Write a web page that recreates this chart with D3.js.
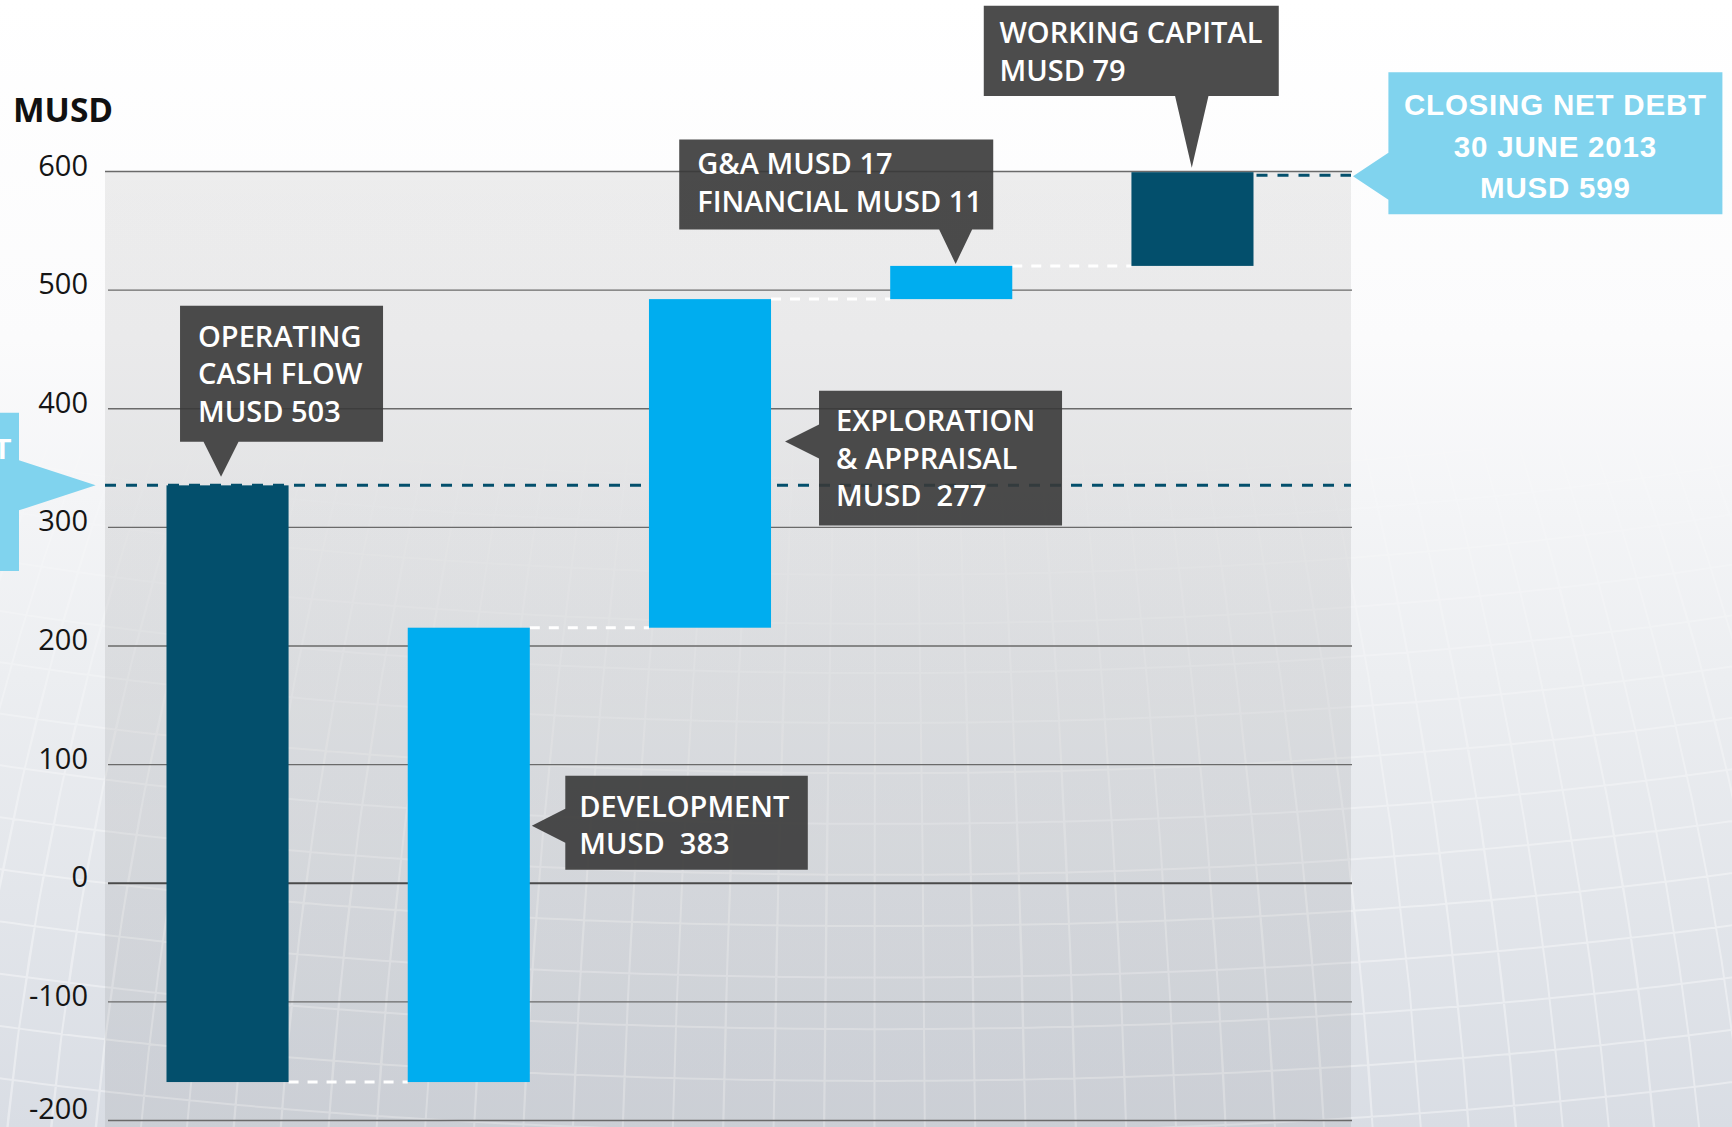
<!DOCTYPE html>
<html>
<head>
<meta charset="utf-8">
<script src="https://cdn.jsdelivr.net/npm/d3@7/dist/d3.min.js"></script>
<style>
  html, body { margin: 0; padding: 0; background: #ffffff; }
  svg { display: block; }
  text { white-space: pre; }
</style>
</head>
<body>
<svg id="chart" width="1732" height="1127"></svg>
<script>
// ---------------- DATA ----------------
const categories = ["Operating cash flow", "Development", "Exploration & appraisal", "G&A and financial", "Working capital"];
const openingNetDebt = 335;
const closingNetDebt = 599;
const changes = [-503, 383, 277, 28, 79];
const changeKinds = ["dark", "light", "light", "light", "dark"];
const gaMusd = 17;
const financialMusd = 11;
const tickValues = [-200, -100, 0, 100, 200, 300, 400, 500, 600];
const calloutLines = [
  ["OPERATING", "CASH FLOW", "MUSD 503"],
  ["DEVELOPMENT", "MUSD  383"],
  ["EXPLORATION", "& APPRAISAL", "MUSD  277"],
  ["G&A MUSD " + gaMusd, "FINANCIAL MUSD " + financialMusd],
  ["WORKING CAPITAL", "MUSD 79"]
];
const openingLines = ["OPENING NET DEBT"];
const closingLines = ["CLOSING NET DEBT", "30 JUNE 2013", "MUSD " + closingNetDebt];

// ---------------- LAYOUT ----------------
const W = 1732, H = 1127;
const plotLeft = 105, plotRight = 1351, gridLeft = 108, gridRight = 1352;
const svg = d3.select("#chart");

const y = d3.scaleLinear().domain([-200, 600]).range([1120, 171]);
const x = d3.scaleBand().domain(categories).range([166.5, 1253.5]).paddingInner(0.494).paddingOuter(0);
const bw = x.bandwidth();

const colors = { dark: "#034f6c", light: "#00adef" };

// waterfall levels
let level = openingNetDebt;
const bars = changes.map((c, i) => {
  const from = level, to = level + c;
  level = to;
  return { cat: categories[i], from, to, lo: Math.min(from, to), hi: Math.max(from, to), kind: changeKinds[i] };
});

// ---------------- DEFS ----------------
const defs = svg.append("defs");
const pageGrad = defs.append("linearGradient").attr("id", "pageGrad")
  .attr("x1", 0).attr("y1", 0).attr("x2", 0).attr("y2", 1);
[[0, "#ffffff"], [0.3, "#fbfbfc"], [0.6, "#eceef1"], [1, "#d9dde4"]]
  .forEach(([o, c]) => pageGrad.append("stop").attr("offset", o).attr("stop-color", c));

const plotGrad = defs.append("linearGradient").attr("id", "plotGrad")
  .attr("x1", 0).attr("y1", 0).attr("x2", 0).attr("y2", 1);
[[0, 0.065], [0.5, 0.075], [1, 0.065]]
  .forEach(([o, a]) => plotGrad.append("stop").attr("offset", o).attr("stop-color", "#000").attr("stop-opacity", a));

const maskGrad = defs.append("linearGradient").attr("id", "maskGrad")
  .attr("gradientUnits", "userSpaceOnUse").attr("x1", 0).attr("y1", 0).attr("x2", 0).attr("y2", H);
[[0, 0], [0.25, 0], [0.5, 0.45], [0.8, 1], [1, 1]]
  .forEach(([o, a]) => maskGrad.append("stop").attr("offset", o).attr("stop-color", "#fff").attr("stop-opacity", a));
defs.append("mask").attr("id", "meshMask").attr("maskUnits", "userSpaceOnUse")
  .attr("x", 0).attr("y", 0).attr("width", W).attr("height", H)
  .append("rect").attr("width", W).attr("height", H).attr("fill", "url(#maskGrad)");

// ---------------- BACKGROUND ----------------
svg.append("rect").attr("width", W).attr("height", H).attr("fill", "url(#pageGrad)");

// decorative globe mesh (sphere larger than the page so no edge shows)
const proj = d3.geoOrthographic().scale(1650).translate([880, 1150]).rotate([25, -12]).clipAngle(90);
const geoPath = d3.geoPath(proj);
svg.append("g").attr("mask", "url(#meshMask)")
  .append("path")
  .datum(d3.geoGraticule().step([1.8, 1.8]).precision(0.5)())
  .attr("d", geoPath)
  .attr("fill", "none").attr("stroke", "#ffffff").attr("stroke-opacity", 0.38).attr("stroke-width", 2);

// plot area
svg.append("rect").attr("x", plotLeft).attr("y", y(600)).attr("width", plotRight - plotLeft)
  .attr("height", H - y(600)).attr("fill", "url(#plotGrad)");

// ---------------- AXIS / GRID ----------------
const axis = svg.append("g").attr("transform", `translate(${gridLeft},0)`)
  .call(d3.axisLeft(y).tickValues(tickValues).tickSize(-(gridRight - gridLeft)).tickPadding(20).tickFormat(d => String(d)));
axis.select(".domain").remove();
axis.selectAll(".tick line")
  .attr("stroke", d => d === 0 ? "#4a4a4a" : "#6a6a6a")
  .attr("stroke-width", d => d === 0 ? 2 : 1.4)
  .attr("x1", d => d === 600 ? plotLeft - gridLeft : 0);
axis.selectAll(".tick text")
  .attr("fill", "#151515").attr("font-family", "'Open Sans', sans-serif").attr("font-size", 29)
  .attr("dy", null).attr("y", d => d === -200 ? -2 : 4);

svg.append("text").attr("x", 13).attr("y", 121.5)
  .attr("font-family", "'Open Sans', sans-serif").attr("font-weight", 700).attr("font-size", 33.5)
  .attr("fill", "#111").text("MUSD");

// ---------------- CONNECTORS ----------------
svg.append("line").attr("x1", plotLeft).attr("x2", plotRight)
  .attr("y1", y(openingNetDebt)).attr("y2", y(openingNetDebt))
  .attr("stroke", colors.dark).attr("stroke-width", 3).attr("stroke-dasharray", "11,10");

const conn = bars.slice(0, -1).map((b, i) => ({ x1: x(b.cat) + bw, x2: x(bars[i + 1].cat), v: b.to }));
svg.append("g").selectAll("line").data(conn).join("line")
  .attr("x1", d => d.x1).attr("x2", d => d.x2)
  .attr("y1", d => y(d.v)).attr("y2", d => y(d.v))
  .attr("stroke", "#ffffff").attr("stroke-width", 3).attr("stroke-dasharray", "10,9");

// ---------------- BARS ----------------
svg.append("g").selectAll("rect").data(bars).join("rect")
  .attr("x", d => x(d.cat)).attr("width", bw)
  .attr("y", d => y(d.hi)).attr("height", d => y(d.lo) - y(d.hi))
  .attr("fill", d => colors[d.kind]);

const lastBar = bars[bars.length - 1];
svg.append("line").attr("x1", x(lastBar.cat) + bw + 3).attr("x2", plotRight)
  .attr("y1", y(closingNetDebt) + 3).attr("y2", y(closingNetDebt) + 3)
  .attr("stroke", colors.dark).attr("stroke-width", 3).attr("stroke-dasharray", "11,10");

// ---------------- CALLOUTS ----------------
function calloutPath(b, dir, ax, ay, half) {
  const r = b.x + b.w, btm = b.y + b.h;
  if (dir === "down")
    return `M${b.x},${b.y}H${r}V${btm}H${ax + half}L${ax},${ay}L${ax - half},${btm}H${b.x}Z`;
  if (dir === "left")
    return `M${b.x},${b.y}H${r}V${btm}H${b.x}V${ay + half}L${ax},${ay}L${b.x},${ay - half}Z`;
  return `M${b.x},${b.y}H${r}V${ay - half}L${ax},${ay}L${r},${ay + half}V${btm}H${b.x}Z`;
}

const cx = i => x(categories[i]);
const layouts = [];
{ const ax = cx(0) + bw / 2 - 6.5, ay = y(bars[0].hi) - 8.7;
  layouts.push({ dir: "down", ax, ay, half: 17.5, box: { x: ax - 41, y: ay - 171, w: 203, h: 136 }, tx: 18, base: [41, 78.5, 116] }); }
{ const ax = cx(1) + bw + 2, ay = y(48);
  layouts.push({ dir: "left", ax, ay, half: 17, box: { x: ax + 33.5, y: ay - 50, w: 242.5, h: 94 }, tx: 14, base: [41.3, 78.3] }); }
{ const ax = cx(2) + bw + 14, ay = y(372);
  layouts.push({ dir: "left", ax, ay, half: 17, box: { x: ax + 34, y: ay - 50.6, w: 243, h: 134.6 }, tx: 17, base: [40.6, 78, 115.4] }); }
{ const ax = cx(3) + bw / 2 + 4.4, ay = y(bars[3].hi) - 2;
  layouts.push({ dir: "down", ax, ay, half: 16.5, box: { x: ax - 276.4, y: ay - 124.4, w: 314, h: 90 }, tx: 18, base: [34.4, 72.7] }); }
{ const ax = cx(4) + bw / 2 - 0.7, ay = y(bars[4].hi) - 4.5;
  layouts.push({ dir: "down", ax, ay, half: 16.7, box: { x: ax - 208, y: ay - 162, w: 295, h: 90.4 }, tx: 15.7, base: [37.4, 75.4] }); }

const cg = svg.append("g");
layouts.forEach((L, i) => {
  cg.append("path").attr("d", calloutPath(L.box, L.dir, L.ax, L.ay, L.half))
    .attr("fill", "#383838").attr("fill-opacity", 0.9);
  calloutLines[i].forEach((t, k) => {
    cg.append("text").attr("x", L.box.x + L.tx).attr("y", L.box.y + L.base[k])
      .attr("font-family", "'Open Sans', sans-serif").attr("font-weight", 600).attr("font-size", 29)
      .attr("fill", "#ffffff").text(t);
  });
});

function netDebtFont(sel) {
  return sel.attr("font-family", "'Liberation Sans', Arial, sans-serif").attr("font-weight", 700)
    .attr("font-size", 29.5).attr("letter-spacing", 0.8).attr("fill", "#ffffff");
}
// closing net debt
{ const ax = plotRight + 2, ay = y(closingNetDebt) + 4;
  const box = { x: ax + 35.4, y: ay - 104, w: 334, h: 142 };
  cg.append("path").attr("d", calloutPath(box, "left", ax, ay, 23.5)).attr("fill", "#80d3ee");
  closingLines.forEach((t, k) => {
    netDebtFont(cg.append("text")).attr("x", box.x + box.w / 2).attr("y", box.y + [43, 84.7, 125.7][k])
      .attr("text-anchor", "middle").text(t);
  });
}
// opening net debt (box mostly beyond the left edge, as in the original)
{ const ax = plotLeft - 9.3, ay = y(openingNetDebt);
  const box = { x: ax - 76.7 - 322, y: ay - 72.7, w: 322, h: 158.4 };
  cg.append("path").attr("d", calloutPath(box, "right", ax, ay, 25)).attr("fill", "#80d3ee");
  openingLines.forEach((t, k) => {
    netDebtFont(cg.append("text")).attr("x", box.x + box.w - 7).attr("y", box.y + 46.7 + k * 41)
      .attr("text-anchor", "end").text(t);
  });
}
</script>
</body>
</html>
